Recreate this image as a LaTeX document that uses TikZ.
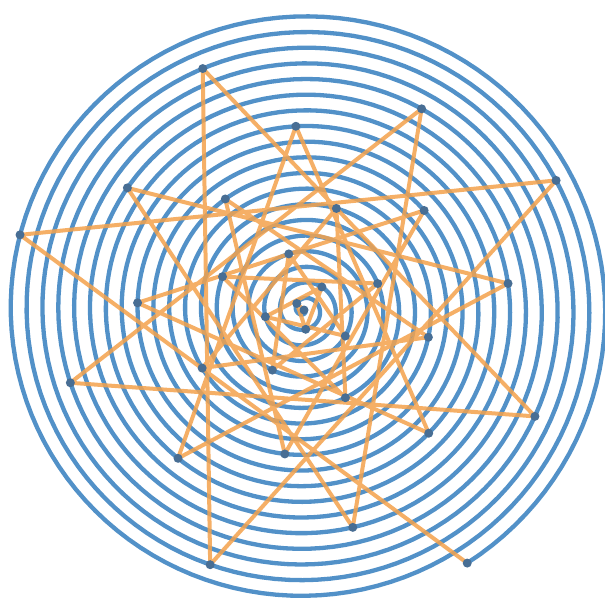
\documentclass[tikz,border=0pt]{standalone}
\definecolor{spiralblue}{RGB}{82,145,200}
\definecolor{starorange}{RGB}{244,162,76}
\definecolor{dotblue}{RGB}{72,110,148}
\tikzset{
  spiralline/.style={draw=spiralblue, line width=4.3pt},
  starline/.style={draw=starorange, line width=4pt, draw opacity=0.85, line join=round, line cap=round},
  dotmark/.style={fill=dotblue}
}
\begin{document}
\begin{tikzpicture}[x=1pt,y=-1pt]
\useasboundingbox (0,0) rectangle (605,603);
\fill[white] (0,0) rectangle (605,603);
% Archimedean spiral, clockwise outward
\draw[spiralline] plot[domain=0:6897.5, samples=2400, variable=\t]
  ({304+0.04404*\t*cos(\t)}, {310+0.0435*\t*sin(\t)});
% sample points every 222.5 degrees
\foreach \k in {0,...,31}
  \coordinate (p\k) at ({304+9.8*\k*cos(222.5*\k)}, {310+9.68*\k*sin(222.5*\k)});
\draw[starline] (p0) \foreach \k in {1,...,31}{ -- (p\k)};
\foreach \k in {0,...,31}
  \fill[dotmark] (p\k) circle (4.5);
\end{tikzpicture}
\end{document}
